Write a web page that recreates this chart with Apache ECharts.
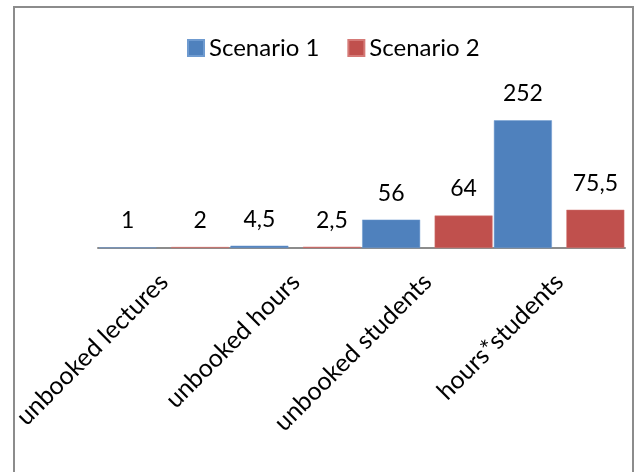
<!DOCTYPE html>
<html>
<head>
<meta charset="utf-8">
<script src="https://cdn.jsdelivr.net/npm/echarts@6/dist/echarts.min.js"></script>
<style>
  html, body { margin: 0; padding: 0; background: #fff; }
  #chart { width: 638px; height: 472px; }
</style>
</head>
<body>
<div id="chart"></div>
<script>
// Categories and series values
const categories = ['unbooked lectures', 'unbooked hours', 'unbooked students', 'hours*students'];
const scenario1 = [1, 4.5, 56, 252];
const scenario2 = [2, 2.5, 64, 75.5];
const seriesNames = ['Scenario 1', 'Scenario 2'];

const FONT = 'Lato, "Open Sans", sans-serif';

// Decimal comma for value labels
const fmt = p => String(p.value).replace('.', ',');

const labelStyle = {
  show: true,
  position: 'top',
  distance: 15,
  fontFamily: FONT,
  fontSize: 23,
  color: '#000',
  formatter: fmt
};

const chart = echarts.init(document.getElementById('chart'), null, { renderer: 'canvas' });
chart.setOption({
  animation: false,
  backgroundColor: '#fff',
  graphic: [{
    type: 'rect',
    shape: { x: 14, y: 7, width: 619, height: 480 },
    style: { fill: 'none', stroke: '#8c8c8c', lineWidth: 2 },
    silent: true
  }],
  legend: {
    top: 31,
    left: 182,
    itemWidth: 16,
    itemHeight: 16,
    itemGap: 28,
    icon: 'rect',
    textStyle: { fontFamily: FONT, fontSize: 24, color: '#000' },
    data: seriesNames
  },
  grid: { left: 98, right: 13, top: 96, bottom: 224, containLabel: false },
  xAxis: {
    type: 'category',
    data: categories,
    axisLine: { show: true, lineStyle: { color: '#8c8c8c', width: 2 } },
    axisTick: { show: false },
    axisLabel: {
      rotate: 45,
      margin: 30,
      fontFamily: FONT,
      fontSize: 25,
      color: '#000',
      interval: 0
    }
  },
  yAxis: {
    type: 'value',
    min: 0,
    max: 300,
    show: false,
    splitLine: { show: false }
  },
  series: [
    {
      name: seriesNames[0],
      type: 'bar',
      data: scenario1,
      barGap: '25%',
      barCategoryGap: '1%',
      itemStyle: { color: '#4F81BD', borderColor: '#6f9bd0', borderWidth: 0.5 },
      label: labelStyle
    },
    {
      name: seriesNames[1],
      type: 'bar',
      data: scenario2,
      barGap: '25%',
      barCategoryGap: '1%',
      itemStyle: { color: '#C0504D', borderColor: '#d57a77', borderWidth: 0.5 },
      label: labelStyle
    }
  ]
});
</script>
</body>
</html>
